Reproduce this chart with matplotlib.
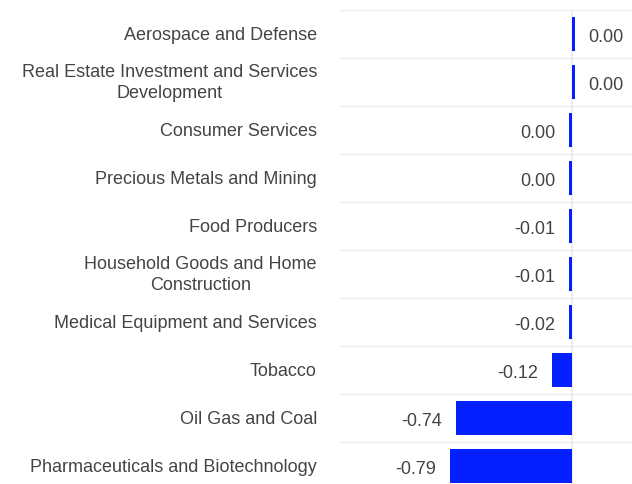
import matplotlib
matplotlib.use("Agg")
import matplotlib.pyplot as plt
import numpy as np

plt.rcParams['font.family'] = ['Liberation Sans', 'DejaVu Sans']

# data (top to bottom)
categories = [
    "Aerospace and Defense",
    "Real Estate Investment and Services\nDevelopment",
    "Consumer Services",
    "Precious Metals and Mining",
    "Food Producers",
    "Household Goods and Home\nConstruction",
    "Medical Equipment and Services",
    "Tobacco",
    "Oil Gas and Coal",
    "Pharmaceuticals and Biotechnology",
]
values = [0.004, 0.003, -0.004, -0.003, -0.006, -0.007, -0.02, -0.13, -0.75, -0.79]
labels = ["0.00", "0.00", "0.00", "0.00", "-0.01", "-0.01", "-0.02", "-0.12", "-0.74", "-0.79"]

W, H = 632, 484
fig = plt.figure(figsize=(W / 100, H / 100), dpi=100)
ax = fig.add_axes([340 / W, 0, 1 - 340 / W, 1 - 10 / H])

bar_color = "#0520ff"
txt_color = "#444444"
grid_color = "#ebebeb"

y = np.arange(len(categories))
# tiny bars still get a visible sliver, as in the original
widths = [np.sign(v) * max(abs(v), 0.018) for v in values]
ax.barh(y, widths, height=0.72, color=bar_color, zorder=3)

ax.set_xlim(-1.497, 0.387)
ax.set_ylim(9.375, -0.5)

for b in np.arange(-0.5, len(categories), 1.0):
    ax.axhline(b, color=grid_color, lw=1, zorder=1)
ax.axvline(0, color=grid_color, lw=1.2, zorder=1)

pad = 0.088
for yi, w, lab in zip(y, widths, labels):
    if w >= 0:
        ax.text(w + pad, yi + 0.03, lab, ha="left", va="center_baseline", fontsize=13, color=txt_color)
    else:
        ax.text(w - pad, yi + 0.03, lab, ha="right", va="center_baseline", fontsize=13, color=txt_color)

for yi, cat in zip(y, categories):
    ax.text(-0.0788, yi + 0.03, cat, transform=ax.get_yaxis_transform(), ha="right", va="center",
            multialignment="center", fontsize=13, color=txt_color, linespacing=1.3)

ax.set_xticks([])
ax.set_yticks([])
for s in ax.spines.values():
    s.set_visible(False)

fig.savefig("out.png", dpi=100)
